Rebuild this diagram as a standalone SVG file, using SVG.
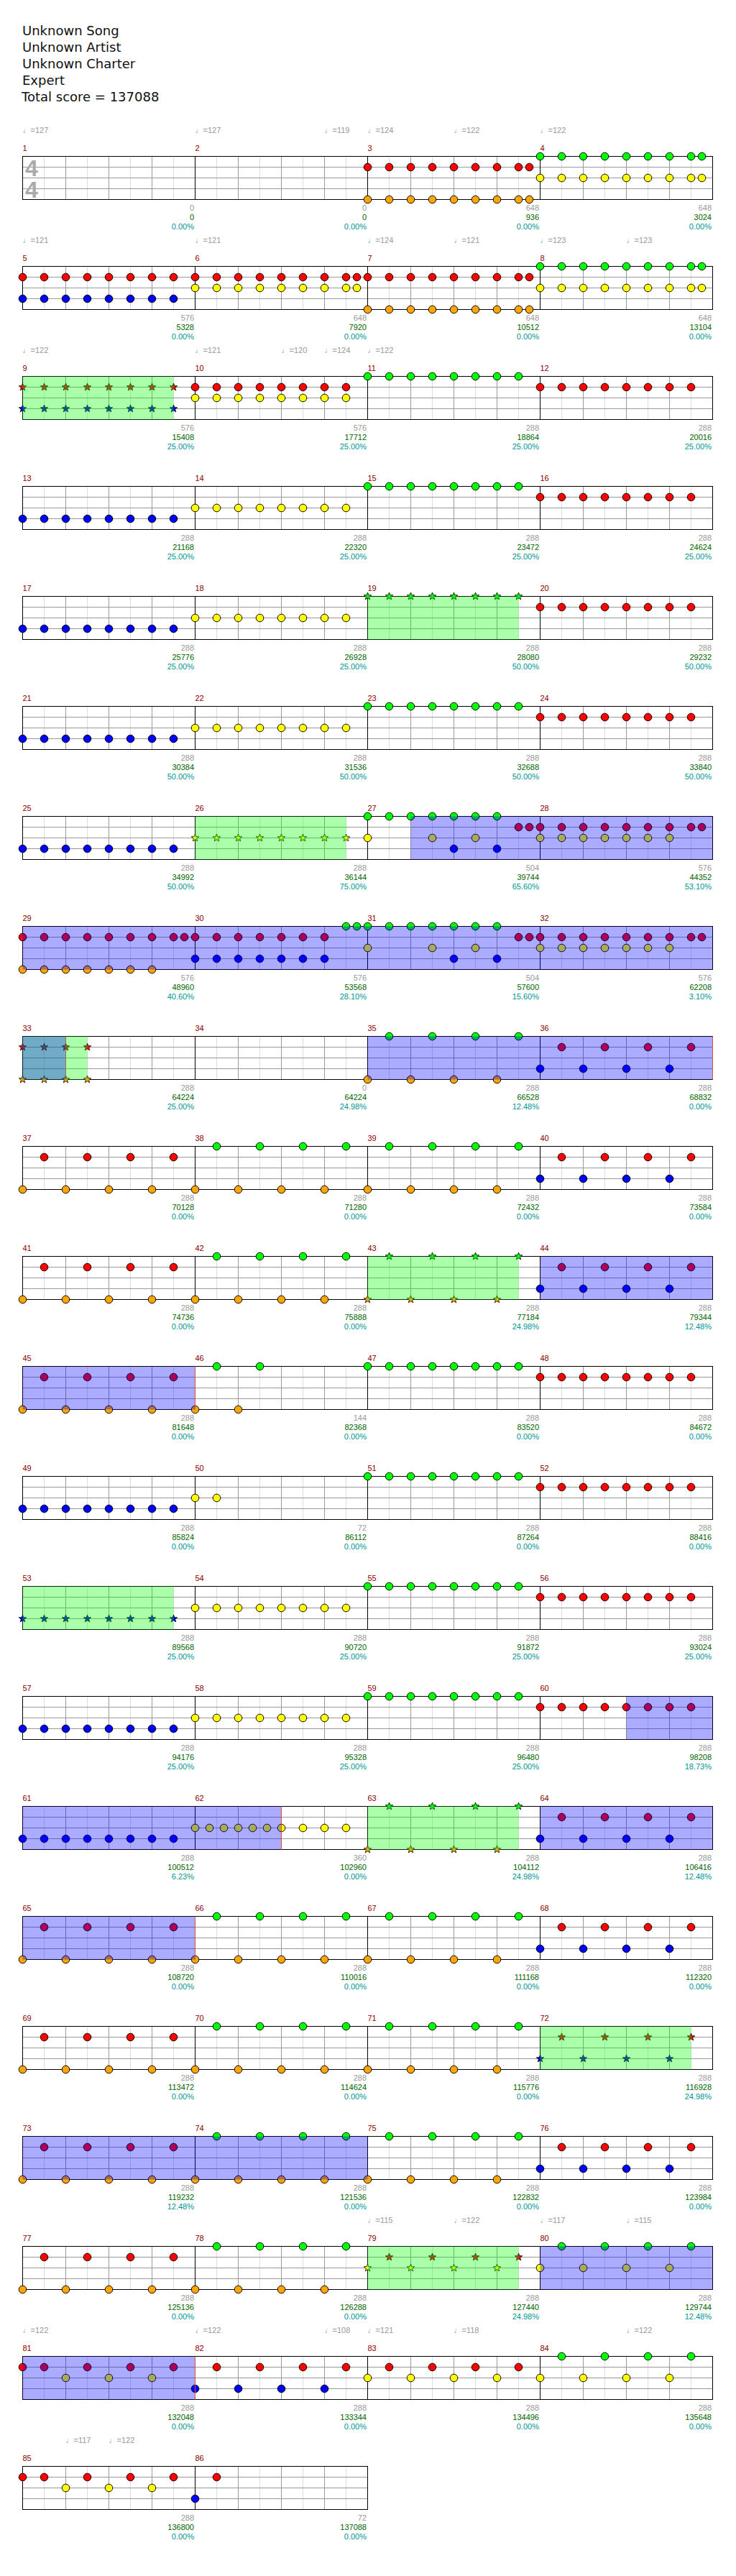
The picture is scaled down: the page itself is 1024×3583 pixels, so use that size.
<svg xmlns="http://www.w3.org/2000/svg" xmlns:xlink="http://www.w3.org/1999/xlink" width="1024" height="3583" viewBox="0 0 1024 3583">
<style>
.g{fill:#00ff00}.r{fill:#ff0000}.y{fill:#ffff00}.b{fill:#0000ff}.o{fill:#ffa500}
text{font-family:"Liberation Sans","DejaVu Sans",Arial,sans-serif;font-size:11px}
.ti{font-family:"DejaVu Sans","Liberation Sans",sans-serif;font-size:18px;fill:#111}
.mn{fill:#8b0000}
.gr{fill:#999;text-anchor:end}
.sc{fill:#006400;text-anchor:end}
.pc{fill:#009696;text-anchor:end}
.tp{fill:#999}
.bo{fill:#0000ff;fill-opacity:0.33}
.go{fill:#00ff00;fill-opacity:0.33}
.rl{stroke:#e05030;stroke-width:1}
</style>
<defs>
<circle id="c" r="5.3" stroke="#000" stroke-width="1"/>
<path id="s" d="M0,-5.5L1.35,-1.86L5.23,-1.7L2.19,0.71L3.23,4.45L0,2.3L-3.23,4.45L-2.19,0.71L-5.23,-1.7L-1.35,-1.86Z" stroke="#000" stroke-width="0.8"/>
<g id="n7"><use href="#c"/><use href="#c" x="30"/><use href="#c" x="60"/><use href="#c" x="90"/><use href="#c" x="120"/><use href="#c" x="150"/><use href="#c" x="180"/></g>
<g id="n8"><use href="#n7"/><use href="#c" x="210"/></g>
<g id="n9"><use href="#n8"/><use href="#c" x="225"/></g>
<g id="nb"><use href="#c"/><use href="#c" x="60"/><use href="#c" x="120"/><use href="#c" x="180"/></g>
<g id="no"><use href="#c" x="30"/><use href="#c" x="90"/><use href="#c" x="150"/><use href="#c" x="210"/></g>
<g id="s8"><use href="#s"/><use href="#s" x="30"/><use href="#s" x="60"/><use href="#s" x="90"/><use href="#s" x="120"/><use href="#s" x="150"/><use href="#s" x="180"/><use href="#s" x="210"/></g>
<g id="s4"><use href="#s"/><use href="#s" x="30"/><use href="#s" x="60"/><use href="#s" x="90"/></g>
<g id="sb"><use href="#s"/><use href="#s" x="60"/><use href="#s" x="120"/><use href="#s" x="180"/></g>
<g id="so"><use href="#s" x="30"/><use href="#s" x="90"/><use href="#s" x="150"/><use href="#s" x="210"/></g>
<g id="st4">
<rect x="31.5" y="217.5" width="960" height="60" fill="#fff"/>
<path stroke="#ddd" d="M61.5 217.5v60M121.5 217.5v60M181.5 217.5v60M241.5 217.5v60M301.5 217.5v60M361.5 217.5v60M421.5 217.5v60M481.5 217.5v60M541.5 217.5v60M601.5 217.5v60M661.5 217.5v60M721.5 217.5v60M781.5 217.5v60M841.5 217.5v60M901.5 217.5v60M961.5 217.5v60"/>
<path stroke="#999" d="M91.5 217.5v60M151.5 217.5v60M211.5 217.5v60M331.5 217.5v60M391.5 217.5v60M451.5 217.5v60M571.5 217.5v60M631.5 217.5v60M691.5 217.5v60M811.5 217.5v60M871.5 217.5v60M931.5 217.5v60M31.5 232.5h960M31.5 247.5h960M31.5 262.5h960"/>
<path stroke="#000" d="M271.5 217.5v60M511.5 217.5v60M751.5 217.5v60"/>
<rect x="31.5" y="217.5" width="960" height="60" fill="none" stroke="#000"/>
</g>
<g id="st2">
<rect x="31.5" y="217.5" width="480" height="60" fill="#fff"/>
<path stroke="#ddd" d="M61.5 217.5v60M121.5 217.5v60M181.5 217.5v60M241.5 217.5v60M301.5 217.5v60M361.5 217.5v60M421.5 217.5v60M481.5 217.5v60"/>
<path stroke="#999" d="M91.5 217.5v60M151.5 217.5v60M211.5 217.5v60M331.5 217.5v60M391.5 217.5v60M451.5 217.5v60M31.5 232.5h480M31.5 247.5h480M31.5 262.5h480"/>
<path stroke="#000" d="M271.5 217.5v60"/>
<rect x="31.5" y="217.5" width="480" height="60" fill="none" stroke="#000"/>
</g>
</defs>
<rect width="1024" height="3583" fill="#fff"/>
<g id="header">
<text class="ti" x="31" y="49">Unknown Song</text>
<text class="ti" x="31" y="72">Unknown Artist</text>
<text class="ti" x="31" y="95">Unknown Charter</text>
<text class="ti" x="31" y="118">Expert</text>
<text class="ti" x="30" y="141">Total score = 137088</text>
</g>

<g id="row1">
<use href="#st4"/>
<text x="44" y="245" style="font-size:32px;font-weight:bold;fill:#aaa;text-anchor:middle">4</text>
<text x="44" y="275" style="font-size:32px;font-weight:bold;fill:#aaa;text-anchor:middle">4</text>
<use href="#n9" class="r" x="511.5" y="232.5"/><use href="#n9" class="o" x="511.5" y="277.5"/>
<use href="#n9" class="g" x="751.5" y="217.5"/><use href="#n9" class="y" x="751.5" y="247.5"/>
<text class="tp" x="31.5" y="184.5">♩=127</text><text class="tp" x="271.5" y="184.5">♩=127</text><text class="tp" x="451.5" y="184.5">♩=119</text><text class="tp" x="511.5" y="184.5">♩=124</text><text class="tp" x="631.5" y="184.5">♩=122</text><text class="tp" x="751.5" y="184.5">♩=122</text>
<text class="mn" x="31.5" y="210">1</text><text class="mn" x="271.5" y="210">2</text><text class="mn" x="511.5" y="210">3</text><text class="mn" x="751.5" y="210">4</text>
<text class="gr" x="270" y="292.5">0</text><text class="sc" x="270" y="305.5">0</text><text class="pc" x="270" y="319">0.00%</text>
<text class="gr" x="510" y="292.5">0</text><text class="sc" x="510" y="305.5">0</text><text class="pc" x="510" y="319">0.00%</text>
<text class="gr" x="750" y="292.5">648</text><text class="sc" x="750" y="305.5">936</text><text class="pc" x="750" y="319">0.00%</text>
<text class="gr" x="990" y="292.5">648</text><text class="sc" x="990" y="305.5">3024</text><text class="pc" x="990" y="319">0.00%</text>
</g>

<g id="row2" transform="translate(0,153)">
<use href="#st4"/>
<use href="#n8" class="r" x="31.5" y="232.5"/><use href="#n8" class="b" x="31.5" y="262.5"/>
<use href="#n9" class="r" x="271.5" y="232.5"/><use href="#n9" class="y" x="271.5" y="247.5"/>
<use href="#n9" class="r" x="511.5" y="232.5"/><use href="#n9" class="o" x="511.5" y="277.5"/>
<use href="#n9" class="g" x="751.5" y="217.5"/><use href="#n9" class="y" x="751.5" y="247.5"/>
<text class="tp" x="31.5" y="184.5">♩=121</text><text class="tp" x="271.5" y="184.5">♩=121</text><text class="tp" x="511.5" y="184.5">♩=124</text><text class="tp" x="631.5" y="184.5">♩=121</text><text class="tp" x="751.5" y="184.5">♩=123</text><text class="tp" x="871.5" y="184.5">♩=123</text>
<text class="mn" x="31.5" y="210">5</text><text class="mn" x="271.5" y="210">6</text><text class="mn" x="511.5" y="210">7</text><text class="mn" x="751.5" y="210">8</text>
<text class="gr" x="270" y="292.5">576</text><text class="sc" x="270" y="305.5">5328</text><text class="pc" x="270" y="319">0.00%</text>
<text class="gr" x="510" y="292.5">648</text><text class="sc" x="510" y="305.5">7920</text><text class="pc" x="510" y="319">0.00%</text>
<text class="gr" x="750" y="292.5">648</text><text class="sc" x="750" y="305.5">10512</text><text class="pc" x="750" y="319">0.00%</text>
<text class="gr" x="990" y="292.5">648</text><text class="sc" x="990" y="305.5">13104</text><text class="pc" x="990" y="319">0.00%</text>
</g>

<g id="row3" transform="translate(0,306)">
<use href="#st4"/>
<use href="#s8" class="r" x="31.5" y="232.5"/><use href="#s8" class="b" x="31.5" y="262.5"/>
<use href="#n8" class="r" x="271.5" y="232.5"/><use href="#n8" class="y" x="271.5" y="247.5"/>
<use href="#n8" class="g" x="511.5" y="217.5"/>
<use href="#n8" class="r" x="751.5" y="232.5"/>
<rect class="go" x="31.5" y="217.5" width="210" height="60"/>
<text class="tp" x="31.5" y="184.5">♩=122</text><text class="tp" x="271.5" y="184.5">♩=121</text><text class="tp" x="391.5" y="184.5">♩=120</text><text class="tp" x="451.5" y="184.5">♩=124</text><text class="tp" x="511.5" y="184.5">♩=122</text>
<text class="mn" x="31.5" y="210">9</text><text class="mn" x="271.5" y="210">10</text><text class="mn" x="511.5" y="210">11</text><text class="mn" x="751.5" y="210">12</text>
<text class="gr" x="270" y="292.5">576</text><text class="sc" x="270" y="305.5">15408</text><text class="pc" x="270" y="319">25.00%</text>
<text class="gr" x="510" y="292.5">576</text><text class="sc" x="510" y="305.5">17712</text><text class="pc" x="510" y="319">25.00%</text>
<text class="gr" x="750" y="292.5">288</text><text class="sc" x="750" y="305.5">18864</text><text class="pc" x="750" y="319">25.00%</text>
<text class="gr" x="990" y="292.5">288</text><text class="sc" x="990" y="305.5">20016</text><text class="pc" x="990" y="319">25.00%</text>
</g>

<g id="row4" transform="translate(0,459)">
<use href="#st4"/>
<use href="#n8" class="b" x="31.5" y="262.5"/><use href="#n8" class="y" x="271.5" y="247.5"/><use href="#n8" class="g" x="511.5" y="217.5"/><use href="#n8" class="r" x="751.5" y="232.5"/>
<text class="mn" x="31.5" y="210">13</text><text class="mn" x="271.5" y="210">14</text><text class="mn" x="511.5" y="210">15</text><text class="mn" x="751.5" y="210">16</text>
<text class="gr" x="270" y="292.5">288</text><text class="sc" x="270" y="305.5">21168</text><text class="pc" x="270" y="319">25.00%</text>
<text class="gr" x="510" y="292.5">288</text><text class="sc" x="510" y="305.5">22320</text><text class="pc" x="510" y="319">25.00%</text>
<text class="gr" x="750" y="292.5">288</text><text class="sc" x="750" y="305.5">23472</text><text class="pc" x="750" y="319">25.00%</text>
<text class="gr" x="990" y="292.5">288</text><text class="sc" x="990" y="305.5">24624</text><text class="pc" x="990" y="319">25.00%</text>
</g>

<g id="row5" transform="translate(0,612)">
<use href="#st4"/>
<use href="#n8" class="b" x="31.5" y="262.5"/><use href="#n8" class="y" x="271.5" y="247.5"/><use href="#s8" class="g" x="511.5" y="217.5"/><use href="#n8" class="r" x="751.5" y="232.5"/>
<rect class="go" x="511.5" y="217.5" width="210" height="60"/>
<text class="mn" x="31.5" y="210">17</text><text class="mn" x="271.5" y="210">18</text><text class="mn" x="511.5" y="210">19</text><text class="mn" x="751.5" y="210">20</text>
<text class="gr" x="270" y="292.5">288</text><text class="sc" x="270" y="305.5">25776</text><text class="pc" x="270" y="319">25.00%</text>
<text class="gr" x="510" y="292.5">288</text><text class="sc" x="510" y="305.5">26928</text><text class="pc" x="510" y="319">25.00%</text>
<text class="gr" x="750" y="292.5">288</text><text class="sc" x="750" y="305.5">28080</text><text class="pc" x="750" y="319">50.00%</text>
<text class="gr" x="990" y="292.5">288</text><text class="sc" x="990" y="305.5">29232</text><text class="pc" x="990" y="319">50.00%</text>
</g>

<g id="row6" transform="translate(0,765)">
<use href="#st4"/>
<use href="#n8" class="b" x="31.5" y="262.5"/><use href="#n8" class="y" x="271.5" y="247.5"/><use href="#n8" class="g" x="511.5" y="217.5"/><use href="#n8" class="r" x="751.5" y="232.5"/>
<text class="mn" x="31.5" y="210">21</text><text class="mn" x="271.5" y="210">22</text><text class="mn" x="511.5" y="210">23</text><text class="mn" x="751.5" y="210">24</text>
<text class="gr" x="270" y="292.5">288</text><text class="sc" x="270" y="305.5">30384</text><text class="pc" x="270" y="319">50.00%</text>
<text class="gr" x="510" y="292.5">288</text><text class="sc" x="510" y="305.5">31536</text><text class="pc" x="510" y="319">50.00%</text>
<text class="gr" x="750" y="292.5">288</text><text class="sc" x="750" y="305.5">32688</text><text class="pc" x="750" y="319">50.00%</text>
<text class="gr" x="990" y="292.5">288</text><text class="sc" x="990" y="305.5">33840</text><text class="pc" x="990" y="319">50.00%</text>
</g>

<g id="row7" transform="translate(0,918)">
<use href="#st4"/>
<use href="#n8" class="b" x="31.5" y="262.5"/>
<use href="#s8" class="y" x="271.5" y="247.5"/>
<use href="#n7" class="g" x="511.5" y="217.5"/>
<use href="#c" class="y" x="511.5" y="247.5"/><use href="#c" class="y" x="601.5" y="247.5"/><use href="#c" class="y" x="661.5" y="247.5"/>
<use href="#c" class="b" x="631.5" y="262.5"/><use href="#c" class="b" x="691.5" y="262.5"/>
<use href="#c" class="r" x="721.5" y="232.5"/><use href="#c" class="r" x="736.5" y="232.5"/>
<use href="#n9" class="r" x="751.5" y="232.5"/><use href="#n7" class="y" x="751.5" y="247.5"/>
<rect class="go" x="271.5" y="217.5" width="210" height="60"/>
<rect class="bo" x="571.5" y="217.5" width="420" height="60"/>
<text class="mn" x="31.5" y="210">25</text><text class="mn" x="271.5" y="210">26</text><text class="mn" x="511.5" y="210">27</text><text class="mn" x="751.5" y="210">28</text>
<text class="gr" x="270" y="292.5">288</text><text class="sc" x="270" y="305.5">34992</text><text class="pc" x="270" y="319">50.00%</text>
<text class="gr" x="510" y="292.5">288</text><text class="sc" x="510" y="305.5">36144</text><text class="pc" x="510" y="319">75.00%</text>
<text class="gr" x="750" y="292.5">504</text><text class="sc" x="750" y="305.5">39744</text><text class="pc" x="750" y="319">65.60%</text>
<text class="gr" x="990" y="292.5">576</text><text class="sc" x="990" y="305.5">44352</text><text class="pc" x="990" y="319">53.10%</text>
</g>

<g id="row8" transform="translate(0,1071)">
<use href="#st4"/>
<use href="#n8" class="r" x="31.5" y="232.5"/><use href="#c" class="r" x="256.5" y="232.5"/>
<use href="#n7" class="o" x="31.5" y="277.5"/>
<use href="#n7" class="r" x="271.5" y="232.5"/><use href="#n7" class="b" x="271.5" y="262.5"/>
<use href="#c" class="g" x="481.5" y="217.5"/><use href="#c" class="g" x="496.5" y="217.5"/>
<use href="#n7" class="g" x="511.5" y="217.5"/>
<use href="#c" class="y" x="511.5" y="247.5"/><use href="#c" class="y" x="601.5" y="247.5"/><use href="#c" class="y" x="661.5" y="247.5"/>
<use href="#c" class="b" x="631.5" y="262.5"/><use href="#c" class="b" x="691.5" y="262.5"/>
<use href="#c" class="r" x="721.5" y="232.5"/><use href="#c" class="r" x="736.5" y="232.5"/>
<use href="#n9" class="r" x="751.5" y="232.5"/><use href="#n7" class="y" x="751.5" y="247.5"/>
<rect class="bo" x="31.5" y="217.5" width="960" height="60"/>
<text class="mn" x="31.5" y="210">29</text><text class="mn" x="271.5" y="210">30</text><text class="mn" x="511.5" y="210">31</text><text class="mn" x="751.5" y="210">32</text>
<text class="gr" x="270" y="292.5">576</text><text class="sc" x="270" y="305.5">48960</text><text class="pc" x="270" y="319">40.60%</text>
<text class="gr" x="510" y="292.5">576</text><text class="sc" x="510" y="305.5">53568</text><text class="pc" x="510" y="319">28.10%</text>
<text class="gr" x="750" y="292.5">504</text><text class="sc" x="750" y="305.5">57600</text><text class="pc" x="750" y="319">15.60%</text>
<text class="gr" x="990" y="292.5">576</text><text class="sc" x="990" y="305.5">62208</text><text class="pc" x="990" y="319">3.10%</text>
</g>

<g id="row9" transform="translate(0,1224)">
<use href="#st4"/>
<use href="#s4" class="r" x="31.5" y="232.5"/><use href="#s4" class="o" x="31.5" y="277.5"/>
<use href="#no" class="g" x="511.5" y="217.5"/><use href="#nb" class="o" x="511.5" y="277.5"/>
<use href="#no" class="r" x="751.5" y="232.5"/><use href="#nb" class="b" x="751.5" y="262.5"/>
<rect class="go" x="31.5" y="217.5" width="90" height="60"/>
<rect class="bo" x="31.5" y="217.5" width="60" height="60"/>
<line class="rl" x1="91.5" y1="217.5" x2="91.5" y2="277.5" stroke-opacity="0.6"/>
<rect class="bo" x="511.5" y="217.5" width="480" height="60"/>
<line class="rl" x1="991.5" y1="217.5" x2="991.5" y2="277.5"/>
<text class="mn" x="31.5" y="210">33</text><text class="mn" x="271.5" y="210">34</text><text class="mn" x="511.5" y="210">35</text><text class="mn" x="751.5" y="210">36</text>
<text class="gr" x="270" y="292.5">288</text><text class="sc" x="270" y="305.5">64224</text><text class="pc" x="270" y="319">25.00%</text>
<text class="gr" x="510" y="292.5">0</text><text class="sc" x="510" y="305.5">64224</text><text class="pc" x="510" y="319">24.98%</text>
<text class="gr" x="750" y="292.5">288</text><text class="sc" x="750" y="305.5">66528</text><text class="pc" x="750" y="319">12.48%</text>
<text class="gr" x="990" y="292.5">288</text><text class="sc" x="990" y="305.5">68832</text><text class="pc" x="990" y="319">0.00%</text>
</g>

<g id="row10" transform="translate(0,1377)">
<use href="#st4"/>
<use href="#no" class="r" x="31.5" y="232.5"/><use href="#nb" class="o" x="31.5" y="277.5"/>
<use href="#no" class="g" x="271.5" y="217.5"/><use href="#nb" class="o" x="271.5" y="277.5"/>
<use href="#no" class="g" x="511.5" y="217.5"/><use href="#nb" class="o" x="511.5" y="277.5"/>
<use href="#no" class="r" x="751.5" y="232.5"/><use href="#nb" class="b" x="751.5" y="262.5"/>
<text class="mn" x="31.5" y="210">37</text><text class="mn" x="271.5" y="210">38</text><text class="mn" x="511.5" y="210">39</text><text class="mn" x="751.5" y="210">40</text>
<text class="gr" x="270" y="292.5">288</text><text class="sc" x="270" y="305.5">70128</text><text class="pc" x="270" y="319">0.00%</text>
<text class="gr" x="510" y="292.5">288</text><text class="sc" x="510" y="305.5">71280</text><text class="pc" x="510" y="319">0.00%</text>
<text class="gr" x="750" y="292.5">288</text><text class="sc" x="750" y="305.5">72432</text><text class="pc" x="750" y="319">0.00%</text>
<text class="gr" x="990" y="292.5">288</text><text class="sc" x="990" y="305.5">73584</text><text class="pc" x="990" y="319">0.00%</text>
</g>

<g id="row11" transform="translate(0,1530)">
<use href="#st4"/>
<use href="#no" class="r" x="31.5" y="232.5"/><use href="#nb" class="o" x="31.5" y="277.5"/>
<use href="#no" class="g" x="271.5" y="217.5"/><use href="#nb" class="o" x="271.5" y="277.5"/>
<use href="#so" class="g" x="511.5" y="217.5"/><use href="#sb" class="o" x="511.5" y="277.5"/>
<use href="#no" class="r" x="751.5" y="232.5"/><use href="#nb" class="b" x="751.5" y="262.5"/>
<rect class="go" x="511.5" y="217.5" width="210" height="60"/>
<rect class="bo" x="751.5" y="217.5" width="240" height="60"/>
<text class="mn" x="31.5" y="210">41</text><text class="mn" x="271.5" y="210">42</text><text class="mn" x="511.5" y="210">43</text><text class="mn" x="751.5" y="210">44</text>
<text class="gr" x="270" y="292.5">288</text><text class="sc" x="270" y="305.5">74736</text><text class="pc" x="270" y="319">0.00%</text>
<text class="gr" x="510" y="292.5">288</text><text class="sc" x="510" y="305.5">75888</text><text class="pc" x="510" y="319">0.00%</text>
<text class="gr" x="750" y="292.5">288</text><text class="sc" x="750" y="305.5">77184</text><text class="pc" x="750" y="319">24.98%</text>
<text class="gr" x="990" y="292.5">288</text><text class="sc" x="990" y="305.5">79344</text><text class="pc" x="990" y="319">12.48%</text>
</g>

<g id="row12" transform="translate(0,1683)">
<use href="#st4"/>
<use href="#no" class="r" x="31.5" y="232.5"/><use href="#nb" class="o" x="31.5" y="277.5"/>
<use href="#c" class="o" x="271.5" y="277.5"/><use href="#c" class="o" x="331.5" y="277.5"/>
<use href="#c" class="g" x="301.5" y="217.5"/><use href="#c" class="g" x="361.5" y="217.5"/>
<use href="#n8" class="g" x="511.5" y="217.5"/><use href="#n8" class="r" x="751.5" y="232.5"/>
<rect class="bo" x="31.5" y="217.5" width="240" height="60"/>
<line class="rl" x1="271.5" y1="217.5" x2="271.5" y2="277.5"/>
<text class="mn" x="31.5" y="210">45</text><text class="mn" x="271.5" y="210">46</text><text class="mn" x="511.5" y="210">47</text><text class="mn" x="751.5" y="210">48</text>
<text class="gr" x="270" y="292.5">288</text><text class="sc" x="270" y="305.5">81648</text><text class="pc" x="270" y="319">0.00%</text>
<text class="gr" x="510" y="292.5">144</text><text class="sc" x="510" y="305.5">82368</text><text class="pc" x="510" y="319">0.00%</text>
<text class="gr" x="750" y="292.5">288</text><text class="sc" x="750" y="305.5">83520</text><text class="pc" x="750" y="319">0.00%</text>
<text class="gr" x="990" y="292.5">288</text><text class="sc" x="990" y="305.5">84672</text><text class="pc" x="990" y="319">0.00%</text>
</g>

<g id="row13" transform="translate(0,1836)">
<use href="#st4"/>
<use href="#n8" class="b" x="31.5" y="262.5"/>
<use href="#c" class="y" x="271.5" y="247.5"/><use href="#c" class="y" x="301.5" y="247.5"/>
<use href="#n8" class="g" x="511.5" y="217.5"/><use href="#n8" class="r" x="751.5" y="232.5"/>
<text class="mn" x="31.5" y="210">49</text><text class="mn" x="271.5" y="210">50</text><text class="mn" x="511.5" y="210">51</text><text class="mn" x="751.5" y="210">52</text>
<text class="gr" x="270" y="292.5">288</text><text class="sc" x="270" y="305.5">85824</text><text class="pc" x="270" y="319">0.00%</text>
<text class="gr" x="510" y="292.5">72</text><text class="sc" x="510" y="305.5">86112</text><text class="pc" x="510" y="319">0.00%</text>
<text class="gr" x="750" y="292.5">288</text><text class="sc" x="750" y="305.5">87264</text><text class="pc" x="750" y="319">0.00%</text>
<text class="gr" x="990" y="292.5">288</text><text class="sc" x="990" y="305.5">88416</text><text class="pc" x="990" y="319">0.00%</text>
</g>

<g id="row14" transform="translate(0,1989)">
<use href="#st4"/>
<use href="#s8" class="b" x="31.5" y="262.5"/>
<use href="#n8" class="y" x="271.5" y="247.5"/><use href="#n8" class="g" x="511.5" y="217.5"/><use href="#n8" class="r" x="751.5" y="232.5"/>
<rect class="go" x="31.5" y="217.5" width="210" height="60"/>
<text class="mn" x="31.5" y="210">53</text><text class="mn" x="271.5" y="210">54</text><text class="mn" x="511.5" y="210">55</text><text class="mn" x="751.5" y="210">56</text>
<text class="gr" x="270" y="292.5">288</text><text class="sc" x="270" y="305.5">89568</text><text class="pc" x="270" y="319">25.00%</text>
<text class="gr" x="510" y="292.5">288</text><text class="sc" x="510" y="305.5">90720</text><text class="pc" x="510" y="319">25.00%</text>
<text class="gr" x="750" y="292.5">288</text><text class="sc" x="750" y="305.5">91872</text><text class="pc" x="750" y="319">25.00%</text>
<text class="gr" x="990" y="292.5">288</text><text class="sc" x="990" y="305.5">93024</text><text class="pc" x="990" y="319">25.00%</text>
</g>

<g id="row15" transform="translate(0,2142)">
<use href="#st4"/>
<use href="#n8" class="b" x="31.5" y="262.5"/><use href="#n8" class="y" x="271.5" y="247.5"/><use href="#n8" class="g" x="511.5" y="217.5"/><use href="#n8" class="r" x="751.5" y="232.5"/>
<rect class="bo" x="871.5" y="217.5" width="120" height="60"/>
<text class="mn" x="31.5" y="210">57</text><text class="mn" x="271.5" y="210">58</text><text class="mn" x="511.5" y="210">59</text><text class="mn" x="751.5" y="210">60</text>
<text class="gr" x="270" y="292.5">288</text><text class="sc" x="270" y="305.5">94176</text><text class="pc" x="270" y="319">25.00%</text>
<text class="gr" x="510" y="292.5">288</text><text class="sc" x="510" y="305.5">95328</text><text class="pc" x="510" y="319">25.00%</text>
<text class="gr" x="750" y="292.5">288</text><text class="sc" x="750" y="305.5">96480</text><text class="pc" x="750" y="319">25.00%</text>
<text class="gr" x="990" y="292.5">288</text><text class="sc" x="990" y="305.5">98208</text><text class="pc" x="990" y="319">18.73%</text>
</g>

<g id="row16" transform="translate(0,2295)">
<use href="#st4"/>
<use href="#n8" class="b" x="31.5" y="262.5"/>
<use href="#c" class="y" x="271.5" y="247.5"/><use href="#c" class="y" x="291.5" y="247.5"/><use href="#c" class="y" x="311.5" y="247.5"/><use href="#c" class="y" x="331.5" y="247.5"/><use href="#c" class="y" x="351.5" y="247.5"/><use href="#c" class="y" x="371.5" y="247.5"/><use href="#c" class="y" x="391.5" y="247.5"/><use href="#c" class="y" x="421.5" y="247.5"/><use href="#c" class="y" x="451.5" y="247.5"/><use href="#c" class="y" x="481.5" y="247.5"/>
<use href="#so" class="g" x="511.5" y="217.5"/><use href="#sb" class="o" x="511.5" y="277.5"/>
<use href="#no" class="r" x="751.5" y="232.5"/><use href="#nb" class="b" x="751.5" y="262.5"/>
<rect class="bo" x="31.5" y="217.5" width="360" height="60"/>
<line class="rl" x1="391.5" y1="217.5" x2="391.5" y2="277.5"/>
<rect class="go" x="511.5" y="217.5" width="210" height="60"/>
<rect class="bo" x="751.5" y="217.5" width="240" height="60"/>
<text class="mn" x="31.5" y="210">61</text><text class="mn" x="271.5" y="210">62</text><text class="mn" x="511.5" y="210">63</text><text class="mn" x="751.5" y="210">64</text>
<text class="gr" x="270" y="292.5">288</text><text class="sc" x="270" y="305.5">100512</text><text class="pc" x="270" y="319">6.23%</text>
<text class="gr" x="510" y="292.5">360</text><text class="sc" x="510" y="305.5">102960</text><text class="pc" x="510" y="319">0.00%</text>
<text class="gr" x="750" y="292.5">288</text><text class="sc" x="750" y="305.5">104112</text><text class="pc" x="750" y="319">24.98%</text>
<text class="gr" x="990" y="292.5">288</text><text class="sc" x="990" y="305.5">106416</text><text class="pc" x="990" y="319">12.48%</text>
</g>

<g id="row17" transform="translate(0,2448)">
<use href="#st4"/>
<use href="#no" class="r" x="31.5" y="232.5"/><use href="#nb" class="o" x="31.5" y="277.5"/>
<use href="#no" class="g" x="271.5" y="217.5"/><use href="#nb" class="o" x="271.5" y="277.5"/>
<use href="#no" class="g" x="511.5" y="217.5"/><use href="#nb" class="o" x="511.5" y="277.5"/>
<use href="#no" class="r" x="751.5" y="232.5"/><use href="#nb" class="b" x="751.5" y="262.5"/>
<rect class="bo" x="31.5" y="217.5" width="240" height="60"/>
<line class="rl" x1="271.5" y1="217.5" x2="271.5" y2="277.5"/>
<text class="mn" x="31.5" y="210">65</text><text class="mn" x="271.5" y="210">66</text><text class="mn" x="511.5" y="210">67</text><text class="mn" x="751.5" y="210">68</text>
<text class="gr" x="270" y="292.5">288</text><text class="sc" x="270" y="305.5">108720</text><text class="pc" x="270" y="319">0.00%</text>
<text class="gr" x="510" y="292.5">288</text><text class="sc" x="510" y="305.5">110016</text><text class="pc" x="510" y="319">0.00%</text>
<text class="gr" x="750" y="292.5">288</text><text class="sc" x="750" y="305.5">111168</text><text class="pc" x="750" y="319">0.00%</text>
<text class="gr" x="990" y="292.5">288</text><text class="sc" x="990" y="305.5">112320</text><text class="pc" x="990" y="319">0.00%</text>
</g>

<g id="row18" transform="translate(0,2601)">
<use href="#st4"/>
<use href="#no" class="r" x="31.5" y="232.5"/><use href="#nb" class="o" x="31.5" y="277.5"/>
<use href="#no" class="g" x="271.5" y="217.5"/><use href="#nb" class="o" x="271.5" y="277.5"/>
<use href="#no" class="g" x="511.5" y="217.5"/><use href="#nb" class="o" x="511.5" y="277.5"/>
<use href="#so" class="r" x="751.5" y="232.5"/><use href="#sb" class="b" x="751.5" y="262.5"/>
<rect class="go" x="751.5" y="217.5" width="210" height="60"/>
<text class="mn" x="31.5" y="210">69</text><text class="mn" x="271.5" y="210">70</text><text class="mn" x="511.5" y="210">71</text><text class="mn" x="751.5" y="210">72</text>
<text class="gr" x="270" y="292.5">288</text><text class="sc" x="270" y="305.5">113472</text><text class="pc" x="270" y="319">0.00%</text>
<text class="gr" x="510" y="292.5">288</text><text class="sc" x="510" y="305.5">114624</text><text class="pc" x="510" y="319">0.00%</text>
<text class="gr" x="750" y="292.5">288</text><text class="sc" x="750" y="305.5">115776</text><text class="pc" x="750" y="319">0.00%</text>
<text class="gr" x="990" y="292.5">288</text><text class="sc" x="990" y="305.5">116928</text><text class="pc" x="990" y="319">24.98%</text>
</g>

<g id="row19" transform="translate(0,2754)">
<use href="#st4"/>
<use href="#no" class="r" x="31.5" y="232.5"/><use href="#nb" class="o" x="31.5" y="277.5"/>
<use href="#no" class="g" x="271.5" y="217.5"/><use href="#nb" class="o" x="271.5" y="277.5"/>
<use href="#no" class="g" x="511.5" y="217.5"/><use href="#nb" class="o" x="511.5" y="277.5"/>
<use href="#no" class="r" x="751.5" y="232.5"/><use href="#nb" class="b" x="751.5" y="262.5"/>
<rect class="bo" x="31.5" y="217.5" width="480" height="60"/>
<text class="mn" x="31.5" y="210">73</text><text class="mn" x="271.5" y="210">74</text><text class="mn" x="511.5" y="210">75</text><text class="mn" x="751.5" y="210">76</text>
<text class="gr" x="270" y="292.5">288</text><text class="sc" x="270" y="305.5">119232</text><text class="pc" x="270" y="319">12.48%</text>
<text class="gr" x="510" y="292.5">288</text><text class="sc" x="510" y="305.5">121536</text><text class="pc" x="510" y="319">0.00%</text>
<text class="gr" x="750" y="292.5">288</text><text class="sc" x="750" y="305.5">122832</text><text class="pc" x="750" y="319">0.00%</text>
<text class="gr" x="990" y="292.5">288</text><text class="sc" x="990" y="305.5">123984</text><text class="pc" x="990" y="319">0.00%</text>
</g>

<g id="row20" transform="translate(0,2907)">
<use href="#st4"/>
<use href="#no" class="r" x="31.5" y="232.5"/><use href="#nb" class="o" x="31.5" y="277.5"/>
<use href="#no" class="g" x="271.5" y="217.5"/><use href="#nb" class="o" x="271.5" y="277.5"/>
<use href="#so" class="r" x="511.5" y="232.5"/><use href="#sb" class="y" x="511.5" y="247.5"/>
<use href="#no" class="g" x="751.5" y="217.5"/><use href="#nb" class="y" x="751.5" y="247.5"/>
<rect class="go" x="511.5" y="217.5" width="210" height="60"/>
<rect class="bo" x="751.5" y="217.5" width="240" height="60"/>
<text class="tp" x="511.5" y="184.5">♩=115</text><text class="tp" x="631.5" y="184.5">♩=122</text><text class="tp" x="751.5" y="184.5">♩=117</text><text class="tp" x="871.5" y="184.5">♩=115</text>
<text class="mn" x="31.5" y="210">77</text><text class="mn" x="271.5" y="210">78</text><text class="mn" x="511.5" y="210">79</text><text class="mn" x="751.5" y="210">80</text>
<text class="gr" x="270" y="292.5">288</text><text class="sc" x="270" y="305.5">125136</text><text class="pc" x="270" y="319">0.00%</text>
<text class="gr" x="510" y="292.5">288</text><text class="sc" x="510" y="305.5">126288</text><text class="pc" x="510" y="319">0.00%</text>
<text class="gr" x="750" y="292.5">288</text><text class="sc" x="750" y="305.5">127440</text><text class="pc" x="750" y="319">24.98%</text>
<text class="gr" x="990" y="292.5">288</text><text class="sc" x="990" y="305.5">129744</text><text class="pc" x="990" y="319">12.48%</text>
</g>

<g id="row21" transform="translate(0,3060)">
<use href="#st4"/>
<use href="#c" class="r" x="31.5" y="232.5"/><use href="#no" class="r" x="31.5" y="232.5"/>
<use href="#c" class="y" x="91.5" y="247.5"/><use href="#c" class="y" x="151.5" y="247.5"/><use href="#c" class="y" x="211.5" y="247.5"/>
<use href="#nb" class="b" x="271.5" y="262.5"/><use href="#no" class="r" x="271.5" y="232.5"/>
<use href="#nb" class="y" x="511.5" y="247.5"/><use href="#no" class="r" x="511.5" y="232.5"/>
<use href="#nb" class="y" x="751.5" y="247.5"/><use href="#no" class="g" x="751.5" y="217.5"/>
<rect class="bo" x="31.5" y="217.5" width="240" height="60"/>
<line class="rl" x1="271.5" y1="217.5" x2="271.5" y2="277.5"/>
<text class="tp" x="31.5" y="184.5">♩=122</text><text class="tp" x="271.5" y="184.5">♩=122</text><text class="tp" x="451.5" y="184.5">♩=108</text><text class="tp" x="511.5" y="184.5">♩=121</text><text class="tp" x="631.5" y="184.5">♩=118</text><text class="tp" x="871.5" y="184.5">♩=122</text>
<text class="mn" x="31.5" y="210">81</text><text class="mn" x="271.5" y="210">82</text><text class="mn" x="511.5" y="210">83</text><text class="mn" x="751.5" y="210">84</text>
<text class="gr" x="270" y="292.5">288</text><text class="sc" x="270" y="305.5">132048</text><text class="pc" x="270" y="319">0.00%</text>
<text class="gr" x="510" y="292.5">288</text><text class="sc" x="510" y="305.5">133344</text><text class="pc" x="510" y="319">0.00%</text>
<text class="gr" x="750" y="292.5">288</text><text class="sc" x="750" y="305.5">134496</text><text class="pc" x="750" y="319">0.00%</text>
<text class="gr" x="990" y="292.5">288</text><text class="sc" x="990" y="305.5">135648</text><text class="pc" x="990" y="319">0.00%</text>
</g>

<g id="row22" transform="translate(0,3213)">
<use href="#st2"/>
<use href="#c" class="r" x="31.5" y="232.5"/><use href="#no" class="r" x="31.5" y="232.5"/>
<use href="#c" class="y" x="91.5" y="247.5"/><use href="#c" class="y" x="151.5" y="247.5"/><use href="#c" class="y" x="211.5" y="247.5"/>
<use href="#c" class="b" x="271.5" y="262.5"/><use href="#c" class="r" x="301.5" y="232.5"/>
<text class="tp" x="91.5" y="184.5">♩=117</text><text class="tp" x="151.5" y="184.5">♩=122</text>
<text class="mn" x="31.5" y="210">85</text><text class="mn" x="271.5" y="210">86</text>
<text class="gr" x="270" y="292.5">288</text><text class="sc" x="270" y="305.5">136800</text><text class="pc" x="270" y="319">0.00%</text>
<text class="gr" x="510" y="292.5">72</text><text class="sc" x="510" y="305.5">137088</text><text class="pc" x="510" y="319">0.00%</text>
</g>
</svg>
